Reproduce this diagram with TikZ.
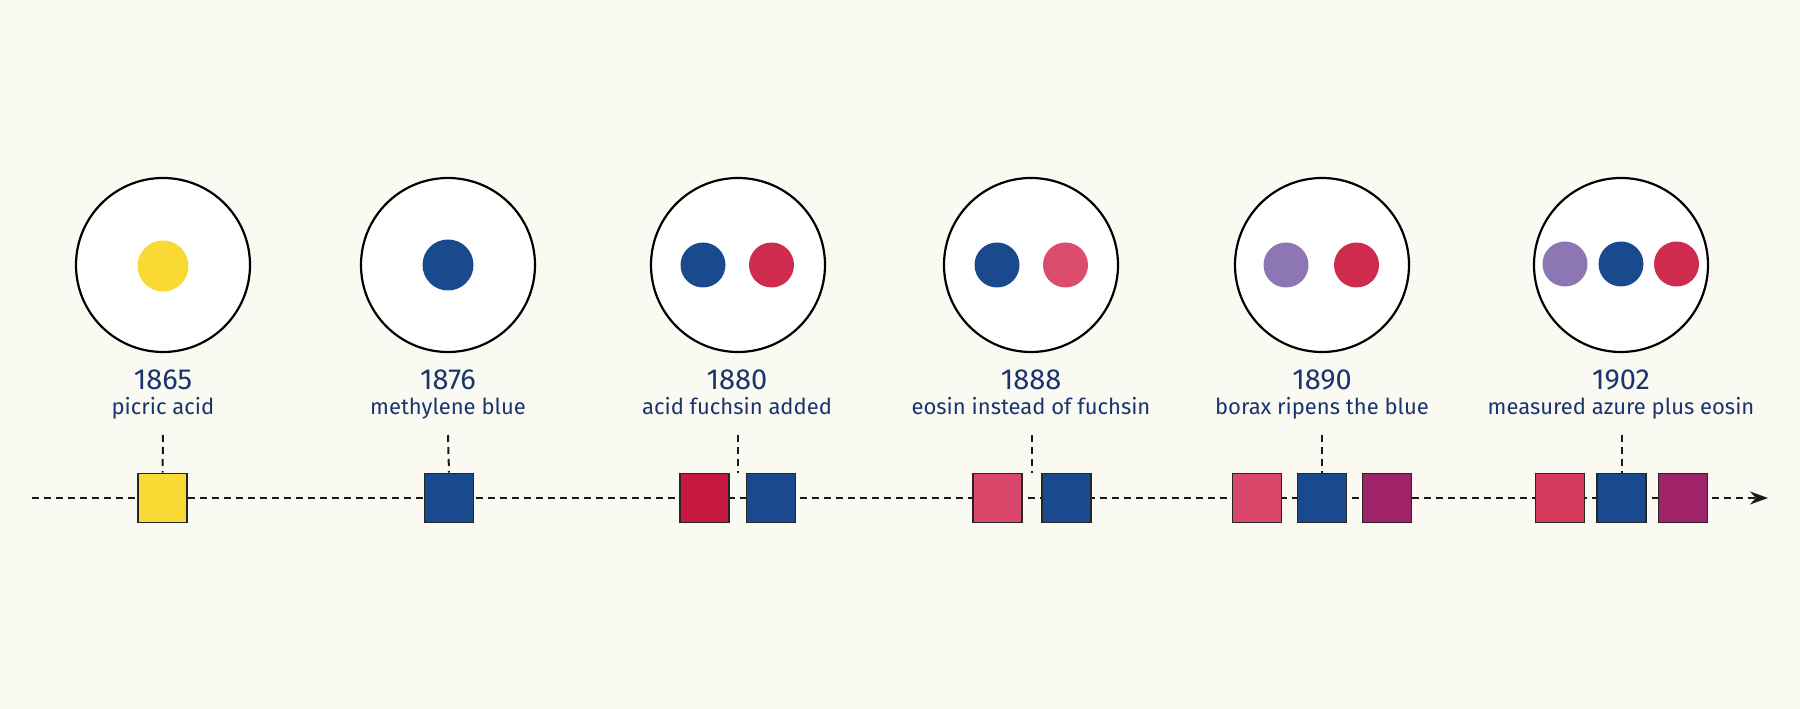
\documentclass[tikz,border=0pt]{standalone}
\usepackage{fontspec}
\setmainfont{Fira Sans}
\usetikzlibrary{arrows.meta}
\definecolor{bg}{HTML}{FBFAF2}
\definecolor{cyellow}{HTML}{F9DA34}
\definecolor{cblue}{HTML}{1A4A8E}
\definecolor{cred}{HTML}{CE2B4F}
\definecolor{credsq}{HTML}{C8183F}
\definecolor{cpink}{HTML}{DC4D6D}
\definecolor{cpinksq}{HTML}{D9476A}
\definecolor{cpurple}{HTML}{8C77B4}
\definecolor{cmag}{HTML}{A0236A}
\definecolor{credsqb}{HTML}{D43A5C}
\definecolor{ctext}{HTML}{1A3470}
\tikzset{
  dish/.style={circle, draw=black, line width=2.2pt, fill=white, minimum size=174pt, inner sep=0pt},
  dotbig/.style={circle, fill=#1, minimum size=51pt, inner sep=0pt},
  dotsm/.style={circle, fill=#1, minimum size=45pt, inner sep=0pt},
  sq/.style={rectangle, draw=black!85, line width=1.8pt, fill=#1, minimum size=49pt, inner sep=0pt},
  year/.style={text=ctext, font=\fontsize{29}{32}\selectfont, anchor=base},
  lbl/.style={text=ctext, font=\fontsize{22}{26}\selectfont, anchor=base},
  dashline/.style={draw=black!90, line width=2pt, dash pattern=on 7pt off 5pt},
}
\begin{document}
\begin{tikzpicture}[x=1pt,y=1pt]
\useasboundingbox[fill=bg] (0,0) rectangle (1800,709);
% timeline
\coordinate (tstart) at (32,211);
\coordinate (tend) at (1768,211);
\draw[dashline, -{Stealth[length=18pt,width=13pt]}] (tstart) -- (tend);

% dishes
\node[dish] (d1) at (163,444) {};
\node[dish] (d2) at (448,444) {};
\node[dish] (d3) at (738,444) {};
\node[dish] (d4) at (1031,444) {};
\node[dish] (d5) at (1322,444) {};
\node[dish] (d6) at (1621,444) {};

% dots
\node[dotbig=cyellow] (p1) at (163,443) {};
\node[dotbig=cblue] (p2) at (448,444) {};
\node[dotsm=cblue] (p3a) at (703,444) {};
\node[dotsm=cred] (p3b) at (771.5,444) {};
\node[dotsm=cblue] (p4a) at (997,444) {};
\node[dotsm=cpink] (p4b) at (1065.5,444) {};
\node[dotsm=cpurple] (p5a) at (1286,444) {};
\node[dotsm=cred] (p5b) at (1356.5,444) {};
\node[dotsm=cpurple] (p6a) at (1565,445) {};
\node[dotsm=cblue] (p6b) at (1621,445) {};
\node[dotsm=cred] (p6c) at (1676.5,445) {};

% years and labels
\node[year] (y1) at (163,319) {1865};
\node[year] (y2) at (448,319) {1876};
\node[year] (y3) at (737,319) {1880};
\node[year] (y4) at (1031,319) {1888};
\node[year] (y5) at (1322,319) {1890};
\node[year] (y6) at (1621,319) {1902};
\node[lbl] (l1) at (163,294) {picric acid};
\node[lbl] (l2) at (448,294) {methylene blue};
\node[lbl] (l3) at (737,294) {acid fuchsin added};
\node[lbl] (l4) at (1031,294) {eosin instead of fuchsin};
\node[lbl] (l5) at (1322,294) {borax ripens the blue};
\node[lbl] (l6) at (1621,294) {measured azure plus eosin};

% squares
\node[sq=cyellow] (s1) at (162.5,211) {};
\node[sq=cblue] (s2) at (449,211) {};
\node[sq=credsq] (s3a) at (704.5,211) {};
\node[sq=cblue] (s3b) at (771,211) {};
\node[sq=cpinksq] (s4a) at (997.5,211) {};
\node[sq=cblue] (s4b) at (1066.5,211) {};
\node[sq=cpinksq] (s5a) at (1257,211) {};
\node[sq=cblue] (s5b) at (1322,211) {};
\node[sq=cmag] (s5c) at (1387,211) {};
\node[sq=credsqb] (s6a) at (1560,211) {};
\node[sq=cblue] (s6b) at (1621.5,211) {};
\node[sq=cmag] (s6c) at (1683,211) {};

% ticks
\coordinate (k1) at (163,274);
\coordinate (k2) at (448,274);
\coordinate (k3) at (737.5,274);
\coordinate (k4) at (1031.5,274);
\coordinate (k5) at (1322,274);
\coordinate (k6) at (1621.5,274);
\coordinate (g3) at (737.5,236);
\coordinate (g4) at (1031.5,236);
\draw[dashline] (k1) -- (s1.north);
\draw[dashline] (k2) -- (s2.north);
\draw[dashline] (k3) -- (g3);
\draw[dashline] (k4) -- (g4);
\draw[dashline] (k5) -- (s5b.north);
\draw[dashline] (k6) -- (s6b.north);
\end{tikzpicture}
\end{document}
